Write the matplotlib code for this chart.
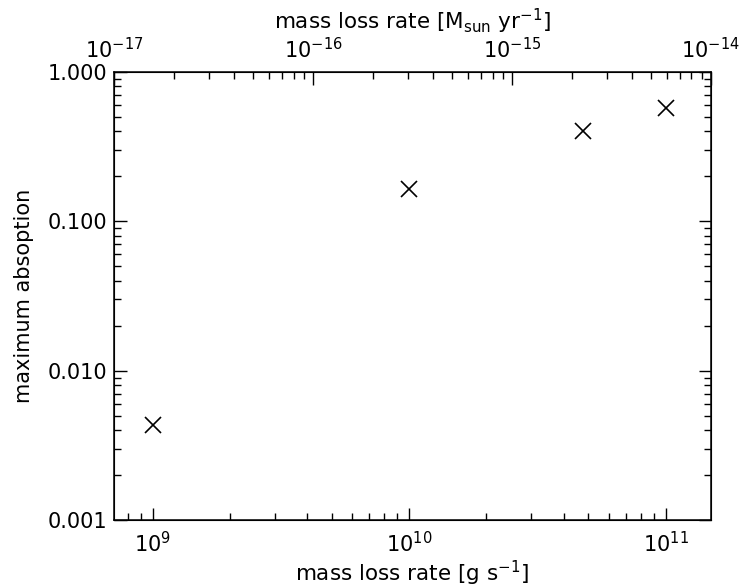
import matplotlib
matplotlib.use("Agg")
import matplotlib.pyplot as plt
from matplotlib.ticker import LogLocator, FixedLocator, FuncFormatter, NullFormatter
import numpy as np

# Mass loss rate [g/s] and the corresponding maximum absorption depth
mass_loss_gs = [1.0e9, 1.0e10, 4.75e10, 1.0e11]
max_absorption = [0.00432, 0.165, 0.402, 0.577]

x_limits = (7.06e8, 1.5e11)
y_limits = (1e-3, 1.0)
top_limits = (1e-17, 1e-14)
x_tick_values = [1e9, 1e10, 1e11]
top_tick_values = [1e-17, 1e-16, 1e-15, 1e-14]
y_tick_values = [0.001, 0.010, 0.100, 1.000]

plt.rcParams["font.family"] = "DejaVu Sans"
plt.rcParams["mathtext.fontset"] = "dejavusans"


def power_label(v, pos):
    return r"$10^{%d}$" % round(np.log10(v))


fig = plt.figure(figsize=(7.41, 5.87), dpi=100)
ax = fig.add_axes([0.1538, 0.1141, 0.9591 - 0.1538, 0.8773 - 0.1141])

ax.plot(mass_loss_gs, max_absorption, linestyle="none", marker="x",
        markersize=12, markeredgewidth=1.2, color="black")

ax.set_xscale("log")
ax.set_yscale("log")
ax.set_xlim(*x_limits)
ax.set_ylim(*y_limits)

fs = 15
ax.yaxis.set_major_locator(FixedLocator(y_tick_values))
ax.yaxis.set_major_formatter(FuncFormatter(lambda v, p: f"{v:.3f}"))
ax.yaxis.set_minor_locator(LogLocator(base=10, subs=np.arange(2, 10)))
ax.yaxis.set_minor_formatter(NullFormatter())
ax.xaxis.set_major_locator(FixedLocator(x_tick_values))
ax.xaxis.set_minor_locator(LogLocator(base=10, subs=np.arange(2, 10)))
ax.xaxis.set_minor_formatter(NullFormatter())
ax.xaxis.set_major_formatter(FuncFormatter(power_label))

ax.tick_params(which="both", direction="in", right=True, top=False,
               labelsize=fs, width=1.0)
ax.tick_params(axis="x", pad=8)
ax.tick_params(axis="y", pad=5)
ax.tick_params(which="major", length=9)
ax.tick_params(which="minor", length=5)
for s in ax.spines.values():
    s.set_linewidth(1.1)

ax.set_xlabel(r"mass loss rate [g s$^{-1}$]", fontsize=15.5, labelpad=2)
ax.set_ylabel("maximum absoption", fontsize=15, labelpad=10)

# Top axis in solar masses per year
top = ax.twiny()
top.set_xscale("log")
top.set_xlim(*top_limits)
top.xaxis.set_major_locator(FixedLocator(top_tick_values))
top.xaxis.set_minor_locator(LogLocator(base=10, subs=np.arange(2, 10)))
top.xaxis.set_minor_formatter(NullFormatter())
top.xaxis.set_major_formatter(FuncFormatter(power_label))
top.tick_params(which="both", direction="in", labelsize=fs, width=1.0, pad=7)
top.tick_params(which="major", length=9)
top.tick_params(which="minor", length=5)
top.set_xlabel(r"mass loss rate [M$_{\rm sun}$ yr$^{-1}$]", fontsize=15.5, labelpad=6)

fig.savefig("out.png", dpi=100)
